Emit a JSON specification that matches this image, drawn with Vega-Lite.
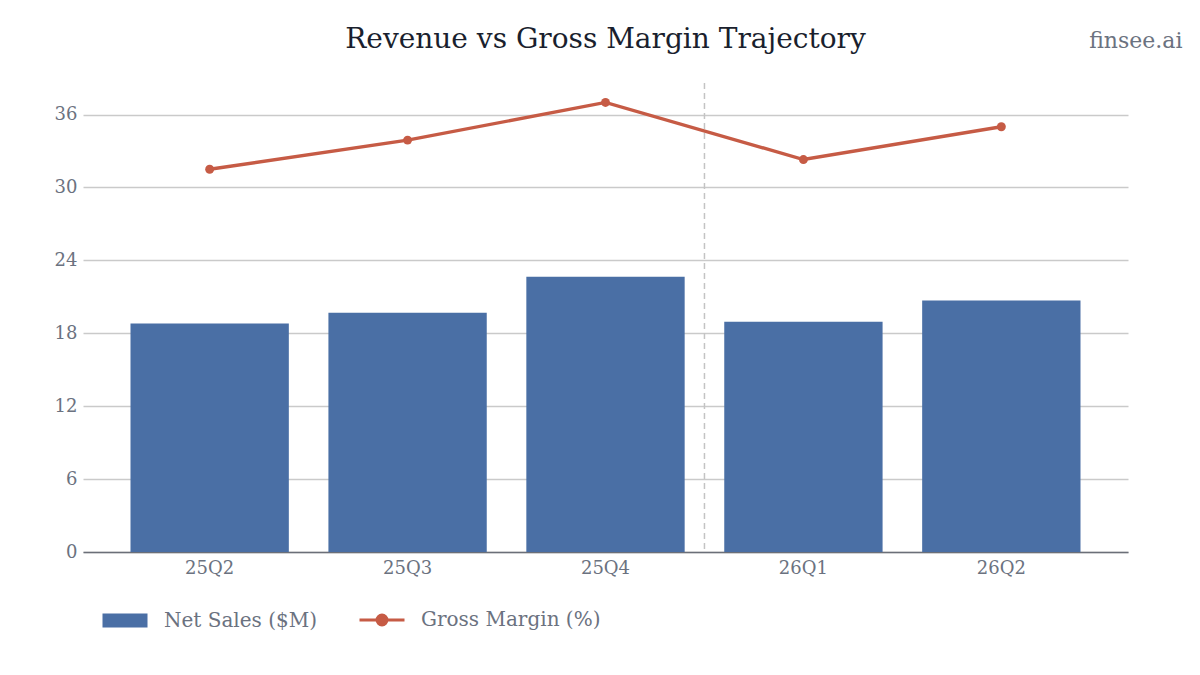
{
  "$schema": "https://vega.github.io/schema/vega-lite/v6.json",
  "width": 1045,
  "height": 469,
  "autosize": "none",
  "padding": {"left": 83, "top": 83, "right": 72, "bottom": 123},
  "background": "#ffffff",
  "title": {
    "text": "Revenue vs Gross Margin Trajectory",
    "font": "DejaVu Serif",
    "fontSize": 28,
    "fontWeight": "normal",
    "color": "#1a1f2e",
    "anchor": "middle",
    "baseline": "alphabetic",
    "offset": 35,
    "dy": 82
  },
  "config": {
    "view": {"stroke": null},
    "font": "DejaVu Serif"
  },
  "data": {
    "values": [
      {"quarter": "25Q2", "net_sales": 18.8, "gross_margin": 31.5},
      {"quarter": "25Q3", "net_sales": 19.7, "gross_margin": 33.9},
      {"quarter": "25Q4", "net_sales": 22.65, "gross_margin": 37.0},
      {"quarter": "26Q1", "net_sales": 18.95, "gross_margin": 32.3},
      {"quarter": "26Q2", "net_sales": 20.7, "gross_margin": 35.0}
    ]
  },
  "encoding": {
    "x": {
      "field": "quarter",
      "type": "nominal",
      "scale": {
        "domain": ["25Q2", "25Q3", "25Q4", "26Q1", "26Q2"],
        "paddingInner": 0.2,
        "paddingOuter": 0.24
      },
      "axis": {
        "title": null,
        "labelAngle": 0,
        "labelFontSize": 18,
        "labelColor": "#6b7280",
        "labelPadding": 7,
        "ticks": false,
        "domainColor": "#6b6f78",
        "domainWidth": 1.5,
        "grid": false
      }
    }
  },
  "layer": [
    {
      "mark": {"type": "bar", "color": "#4a6fa5"},
      "encoding": {
        "y": {
          "field": "net_sales",
          "type": "quantitative",
          "scale": {"domain": [0, 38.6], "nice": false, "zero": true},
          "axis": {
            "values": [0, 6, 12, 18, 24, 30, 36],
            "domain": false,
            "ticks": false,
            "labelFontSize": 18,
            "labelColor": "#6b7280",
            "labelPadding": 6,
            "gridColor": "#cacaca",
            "gridWidth": 1.5,
            "title": "finsee.ai",
            "titleAngle": 0,
            "titleX": 1099,
            "titleY": -36,
            "titleAlign": "right",
            "titleBaseline": "alphabetic",
            "titleFont": "DejaVu Serif",
            "titleFontSize": 22,
            "titleFontWeight": "normal",
            "titleColor": "#6b7280"
          }
        },
        "color": {
          "datum": "Net Sales ($M)",
          "scale": {
            "domain": ["Net Sales ($M)", "Gross Margin (%)"],
            "range": ["#4a6fa5", "#c65b45"]
          },
          "legend": {
            "orient": "none",
            "legendX": 32,
            "legendY": 527,
            "direction": "horizontal",
            "title": null,
            "padding": 0,
            "labelFont": "DejaVu Serif",
            "labelFontSize": 20,
            "labelColor": "#6b7280",
            "labelLimit": 0,
            "symbolSize": 2025,
            "labelOffset": 29,
            "columnPadding": 35,
            "encode": {
              "symbols": {
                "update": {
                  "shape": {"signal": "datum.value === 'Net Sales ($M)' ? 'M-1,-0.31H1V0.31H-1Z' : 'M-1,0H1M-0.22,0A0.22,0.22,0,1,1,0.22,0A0.22,0.22,0,1,1,-0.22,0Z'"},
                  "fill": {"signal": "datum.value === 'Net Sales ($M)' ? '#4a6fa5' : '#c65b45'"},
                  "stroke": {"signal": "datum.value === 'Net Sales ($M)' ? '#4a6fa5' : '#c65b45'"},
                  "strokeWidth": {"signal": "datum.value === 'Net Sales ($M)' ? 0 : 3"},
                  "opacity": {"value": 1},
                  "fillOpacity": {"value": 1}
                }
              }
            }
          }
        }
      }
    },
    {
      "data": {"values": [{"quarter": "25Q4"}]},
      "mark": {"type": "rule", "color": "#c4c4c4", "strokeWidth": 1.5, "strokeDash": [6, 4]},
      "encoding": {
        "x": {"field": "quarter", "type": "nominal", "bandPosition": 1.125}
      }
    },
    {
      "mark": {
        "type": "line",
        "strokeWidth": 3.4,
        "point": {"filled": true, "size": 80}
      },
      "encoding": {
        "y": {"field": "gross_margin", "type": "quantitative"},
        "color": {"datum": "Gross Margin (%)"}
      }
    }
  ]
}
